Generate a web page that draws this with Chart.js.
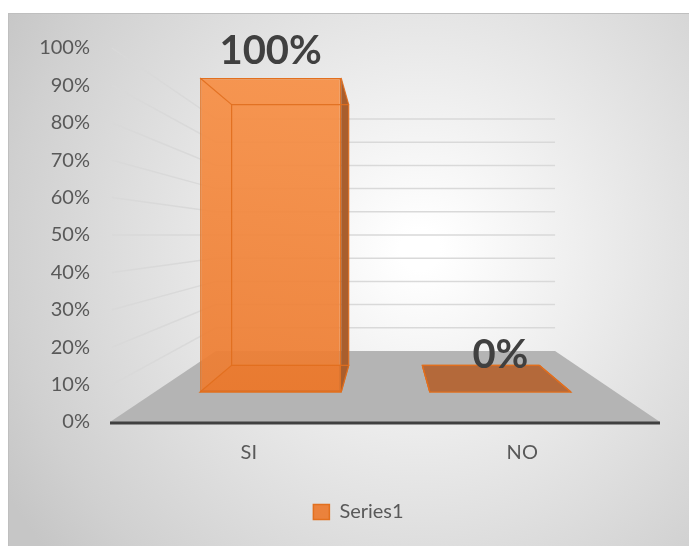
<!DOCTYPE html>
<html>
<head>
<meta charset="utf-8">
<script src="https://cdn.jsdelivr.net/npm/chart.js@4.4.1/dist/chart.umd.min.js"></script>
<style>
  html, body { margin: 0; padding: 0; background: #fff; }
  canvas { display: block; }
</style>
</head>
<body>
<canvas id="chart" width="689" height="546"></canvas>
<script>
const categories = ['SI', 'NO'];
const seriesName = 'Series1';
const values = [1, 0];
const yTickLabels = ['0%', '10%', '20%', '30%', '40%', '50%', '60%', '70%', '80%', '90%', '100%'];

// fake 3D: everything shrinks toward the centre of the plot area
const FRONT = 0.84;       // bar front face, relative to the axis plane
const DEPTH = 0.83;       // bar back face, relative to the front face
const WALL = 0.62;        // back wall / floor back edge
const LABEL_DEPTH = 0.97;
const LEGEND_SHIFT = 14;

function toward(chart, p, k) {
  const a = chart.chartArea;
  const cx = (a.left + a.right) / 2, cy = (a.top + a.bottom) / 2;
  return { x: cx + k * (p.x - cx), y: cy + k * (p.y - cy) };
}

function poly(ctx, pts) {
  ctx.beginPath();
  ctx.moveTo(pts[0].x, pts[0].y);
  for (let i = 1; i < pts.length; i++) ctx.lineTo(pts[i].x, pts[i].y);
  ctx.closePath();
}

function barBox(chart, el) {
  const { x, y, base, width } = el.getProps(['x', 'y', 'base', 'width'], true);
  const l = x - width / 2, r = x + width / 2;
  const f = { lt: { x: l, y: y }, rt: { x: r, y: y }, rb: { x: r, y: base }, lb: { x: l, y: base } };
  const b = {};
  for (const k in f) b[k] = toward(chart, f[k], DEPTH);
  return { f, b };
}

const perspective = {
  id: 'perspective',
  beforeDraw(chart) {
    const ctx = chart.ctx;
    ctx.save();
    ctx.fillStyle = '#ffffff';
    ctx.fillRect(0, 0, chart.width, chart.height);
    const g = ctx.createRadialGradient(420, 250, 20, 420, 250, 480);
    g.addColorStop(0, '#ffffff');
    g.addColorStop(0.85, '#d0d0d0');
    g.addColorStop(1, '#c6c6c6');
    ctx.fillStyle = g;
    ctx.fillRect(8, 13, chart.width - 8, chart.height - 13);
    ctx.strokeStyle = '#bfbfbf';
    ctx.lineWidth = 1;
    ctx.strokeRect(8.5, 13.5, chart.width, chart.height);
    ctx.restore();
  },
  // map the hidden front scales so bars land on the front plane
  afterLayout(chart) {
    const a = chart.chartArea;
    const cx = (a.left + a.right) / 2, cy = (a.top + a.bottom) / 2;
    const x = chart.scales.x, y = chart.scales.y;
    const xf = chart.scales.xFront, yf = chart.scales.yFront;
    const fx0 = cx + FRONT * (x.getPixelForValue(0) - cx);
    const fx1 = cx + FRONT * (x.getPixelForValue(1) - cx);
    xf.min = -(fx0 - xf.left) / (fx1 - fx0);
    xf.max = xf.min + (xf.right - xf.left) / (fx1 - fx0);
    xf.configure();
    const fy0 = cy + FRONT * (y.getPixelForValue(0) - cy);
    const fy1 = cy + FRONT * (y.getPixelForValue(1) - cy);
    yf.min = -(yf.bottom - fy0) / (fy0 - fy1);
    yf.max = yf.min + (yf.bottom - yf.top) / (fy0 - fy1);
    yf.configure();
    if (chart.legend) {
      chart.legend.left += LEGEND_SHIFT;
      chart.legend.right += LEGEND_SHIFT;
    }
  },
  beforeDatasetsDraw(chart) {
    const ctx = chart.ctx, a = chart.chartArea, y = chart.scales.y;
    ctx.save();
    // floor
    poly(ctx, [
      { x: a.left - 2, y: a.bottom }, { x: a.right + 1, y: a.bottom },
      toward(chart, { x: a.right, y: a.bottom }, WALL), toward(chart, { x: a.left, y: a.bottom }, WALL)
    ]);
    ctx.fillStyle = '#b4b4b4';
    ctx.fill();
    // side wall + back wall gridlines
    ctx.strokeStyle = '#d9d9d9';
    ctx.lineWidth = 1.5;
    y.ticks.forEach(t => {
      if (t.value === 0) return;
      const py = y.getPixelForValue(t.value);
      const c = toward(chart, { x: a.left, y: py }, WALL);
      const e = toward(chart, { x: a.right, y: py }, WALL);
      ctx.beginPath();
      ctx.moveTo(a.left, py);
      ctx.lineTo(c.x, c.y);
      ctx.lineTo(e.x, e.y);
      ctx.stroke();
    });
    // axis line
    ctx.strokeStyle = '#404040';
    ctx.lineWidth = 3;
    ctx.beginPath();
    ctx.moveTo(a.left - 2, a.bottom + 1);
    ctx.lineTo(a.right + 1, a.bottom + 1);
    ctx.stroke();
    // bar bottoms
    chart.getDatasetMeta(0).data.forEach(el => {
      const { f, b } = barBox(chart, el);
      poly(ctx, [f.lb, f.rb, b.rb, b.lb]);
      ctx.fillStyle = '#b4693a';
      ctx.fill();
      ctx.strokeStyle = '#e0701f';
      ctx.lineWidth = 1.2;
      ctx.stroke();
    });
    ctx.restore();
  },
  afterDatasetsDraw(chart) {
    const ctx = chart.ctx;
    ctx.save();
    chart.getDatasetMeta(0).data.forEach((el, i) => {
      const { f, b } = barBox(chart, el);
      ctx.fillStyle = '#a95e2d';
      if (b.rt.x > f.rt.x) { poly(ctx, [f.rt, b.rt, b.rb, f.rb]); ctx.fill(); }
      if (b.lt.x < f.lt.x) { poly(ctx, [f.lt, b.lt, b.lb, f.lb]); ctx.fill(); }
      ctx.strokeStyle = 'rgba(224,110,30,0.9)';
      ctx.lineWidth = 1.2;
      poly(ctx, [b.lt, b.rt, b.rb, b.lb]);
      ctx.stroke();
      ['lt', 'rt', 'rb', 'lb'].forEach(k => {
        ctx.beginPath();
        ctx.moveTo(f[k].x, f[k].y);
        ctx.lineTo(b[k].x, b[k].y);
        ctx.stroke();
      });
      // data label
      const lab = toward(chart, f.lt, LABEL_DEPTH);
      ctx.fillStyle = '#404040';
      ctx.font = 'bold 40px Lato';
      ctx.textAlign = 'center';
      ctx.textBaseline = 'alphabetic';
      ctx.fillText(Math.round(values[i] * 100) + '%', el.x, lab.y - 19);
    });
    ctx.restore();
  }
};

Chart.defaults.font.family = 'Lato';
Chart.defaults.color = '#595959';

const ctx = document.getElementById('chart').getContext('2d');
new Chart(ctx, {
  type: 'bar',
  data: {
    labels: categories,
    datasets: [{
      label: seriesName,
      xAxisID: 'xFront',
      yAxisID: 'yFront',
      data: categories.map((c, i) => ({ x: i, y: values[i] })),
      backgroundColor: (c) => {
        const area = c.chart.chartArea;
        if (!area) return 'rgba(237,125,49,0.9)';
        const g = c.chart.ctx.createLinearGradient(0, area.top, 0, area.bottom);
        g.addColorStop(0, 'rgba(248,144,70,0.92)');
        g.addColorStop(1, 'rgba(236,122,46,0.92)');
        return g;
      },
      borderColor: '#e2701f',
      borderWidth: 1.5,
      borderSkipped: false,
      categoryPercentage: 1,
      barPercentage: 0.614
    }]
  },
  options: {
    responsive: false,
    animation: false,
    layout: { padding: { left: 30, right: 30, top: 48, bottom: 14 } },
    scales: {
      x: {
        type: 'category',
        offset: true,
        grid: { display: false },
        border: { display: false },
        ticks: { font: { size: 20 }, color: '#595959', padding: 11 },
        afterFit: (s) => { s.height = 70; }
      },
      y: {
        type: 'linear',
        position: 'left',
        min: 0,
        max: 1,
        grid: { display: false },
        border: { display: false },
        ticks: {
          stepSize: 0.1,
          padding: 14,
          font: { size: 20 },
          color: '#595959',
          callback: (v, i) => yTickLabels[i]
        },
        afterFit: (s) => { s.width = 82; }
      },
      xFront: {
        type: 'linear',
        display: false,
        offset: false,
        min: -1,
        max: 2,
        ticks: { stepSize: 1 }
      },
      yFront: {
        type: 'linear',
        display: false,
        position: 'left',
        min: -0.1,
        max: 1.1
      }
    },
    plugins: {
      legend: {
        position: 'bottom',
        labels: { boxWidth: 16, boxHeight: 15, font: { size: 20 }, color: '#595959', padding: 10 }
      },
      tooltip: { enabled: false }
    }
  },
  plugins: [perspective]
});
</script>
</body>
</html>
